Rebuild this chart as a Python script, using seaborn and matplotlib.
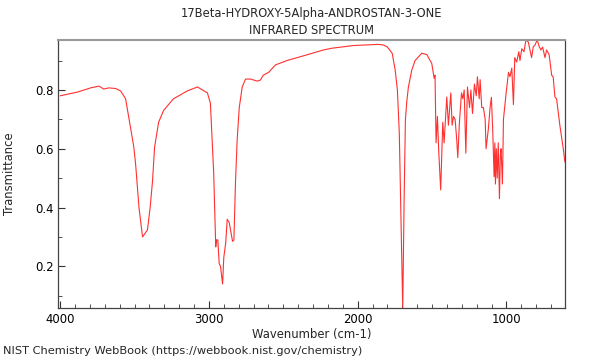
import numpy as np
import pandas as pd
import matplotlib
matplotlib.use("Agg")
import matplotlib.pyplot as plt
from matplotlib.ticker import MultipleLocator
import seaborn as sns

# spectrum (wavenumber in cm-1, transmittance)
wavenumber = [4000, 3882, 3795, 3740, 3707, 3674, 3628, 3594, 3560, 3533, 3506, 3493,
              3470, 3446, 3413, 3395, 3379, 3365, 3338, 3305, 3238, 3144, 3077, 3043,
              3010, 2990, 2968, 2954, 2949, 2940, 2931, 2922, 2908, 2900, 2887, 2877,
              2864, 2850, 2841, 2832, 2821, 2810, 2796, 2776, 2754, 2720, 2675, 2653,
              2635, 2598, 2553, 2475, 2385, 2230, 2172, 2029, 1862, 1829, 1802, 1768,
              1748, 1733, 1720, 1707, 1697, 1688, 1679, 1670, 1659, 1636, 1614, 1569,
              1535, 1502, 1486, 1480, 1473, 1464, 1455, 1442, 1428, 1419, 1401, 1390,
              1374, 1365, 1356, 1345, 1334, 1327, 1316, 1302, 1293, 1284, 1273, 1262,
              1248, 1239, 1228, 1215, 1203, 1195, 1183, 1177, 1166, 1155, 1143, 1137,
              1121, 1110, 1101, 1092, 1083, 1078, 1074, 1068, 1062, 1055, 1047, 1041,
              1036, 1027, 1020, 1002, 986, 976, 964, 953, 944, 931, 917, 909, 897, 882,
              869, 853, 842, 831, 820, 808, 793, 779, 768, 757, 741, 730, 713, 696, 686,
              674, 663, 641, 618, 607]
transmittance = [0.780, 0.793, 0.807, 0.813, 0.803, 0.807, 0.805, 0.797, 0.770, 0.690, 0.610, 0.550,
                 0.400, 0.300, 0.324, 0.400, 0.490, 0.606, 0.690, 0.730, 0.770, 0.797, 0.810, 0.800,
                 0.790, 0.755, 0.520, 0.266, 0.290, 0.290, 0.210, 0.200, 0.140, 0.230, 0.280, 0.360,
                 0.350, 0.310, 0.285, 0.290, 0.490, 0.630, 0.740, 0.810, 0.837, 0.837, 0.830, 0.834,
                 0.850, 0.860, 0.885, 0.900, 0.913, 0.936, 0.942, 0.951, 0.955, 0.953, 0.947, 0.925,
                 0.868, 0.800, 0.650, 0.310, 0.055, 0.420, 0.700, 0.760, 0.810, 0.868, 0.900, 0.925,
                 0.920, 0.890, 0.840, 0.850, 0.620, 0.710, 0.590, 0.460, 0.690, 0.620, 0.776, 0.680,
                 0.790, 0.680, 0.710, 0.700, 0.630, 0.570, 0.690, 0.790, 0.770, 0.800, 0.585, 0.810,
                 0.740, 0.800, 0.720, 0.820, 0.780, 0.845, 0.770, 0.835, 0.740, 0.740, 0.700, 0.600,
                 0.670, 0.740, 0.775, 0.660, 0.505, 0.620, 0.480, 0.600, 0.500, 0.620, 0.430, 0.580,
                 0.600, 0.480, 0.700, 0.790, 0.860, 0.845, 0.874, 0.750, 0.910, 0.895, 0.930, 0.900, 0.940, 0.930,
                 0.970, 0.963, 0.936, 0.910, 0.946, 0.953, 0.970, 0.946, 0.936, 0.946, 0.910, 0.936, 0.920, 0.850, 0.845,
                 0.776, 0.770, 0.680, 0.600, 0.555]

df = pd.DataFrame({"wavenumber": wavenumber, "transmittance": transmittance})

sns.set_theme(style="ticks")
plt.rcParams["font.family"] = ["DejaVu Sans"]

fig = plt.figure(figsize=(6, 3.6), dpi=100)
ax = fig.add_axes([0.097, 0.145, 0.845, 0.744])

sns.lineplot(data=df, x="wavenumber", y="transmittance", ax=ax, color="#ff3030",
             linewidth=0.8, estimator=None, sort=False)

ax.set_xlim(4013, 605)
ax.set_ylim(0.059, 0.97)
ax.xaxis.set_major_locator(MultipleLocator(1000))
ax.xaxis.set_minor_locator(MultipleLocator(100))
ax.yaxis.set_major_locator(MultipleLocator(0.2))
ax.yaxis.set_minor_locator(MultipleLocator(0.1))
ax.tick_params(which="both", direction="in", labelsize=8.4, colors="#333333")
ax.tick_params(which="major", length=5, width=0.8)
ax.tick_params(which="minor", length=3, width=0.6)
ax.tick_params(labelcolor="black")

for side in ["left", "bottom", "right"]:
    ax.spines[side].set_color("#444444")
    ax.spines[side].set_linewidth(0.9)
ax.spines["top"].set_color("#999999")
ax.spines["top"].set_linewidth(1.5)

ax.set_xlabel("Wavenumber (cm-1)", fontsize=8.4, labelpad=2)
ax.set_ylabel("Transmittance", fontsize=8.4)
ax.yaxis.set_label_coords(-0.083, 0.5)
ax.set_title("17Beta-HYDROXY-5Alpha-ANDROSTAN-3-ONE\nINFRARED SPECTRUM", fontsize=8.3,
             linespacing=1.45, pad=4)
fig.text(0.005, 0.012, "NIST Chemistry WebBook (https://webbook.nist.gov/chemistry)",
         fontsize=8.2, ha="left", va="bottom")

fig.savefig("out.png", dpi=100)
